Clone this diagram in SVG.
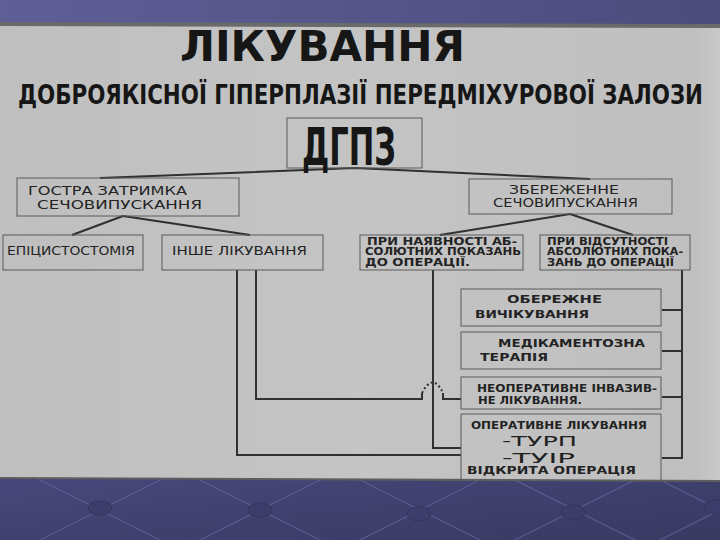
<svg xmlns="http://www.w3.org/2000/svg" width="720" height="540" viewBox="0 0 720 540">
<defs>
<linearGradient id="bgTop" x1="0" y1="0" x2="1" y2="0">
<stop offset="0" stop-color="#5f5f97"/><stop offset="1" stop-color="#4b4b7c"/>
</linearGradient>
<linearGradient id="bgBot" x1="0" y1="0" x2="1" y2="1">
<stop offset="0" stop-color="#48487c"/><stop offset="1" stop-color="#393962"/>
</linearGradient>
<linearGradient id="paper" x1="0" y1="0" x2="1" y2="0">
<stop offset="0" stop-color="#bfbfbf"/><stop offset="0.5" stop-color="#c4c4c4"/><stop offset="0.96" stop-color="#bfbfbf"/><stop offset="1" stop-color="#c8c8c8"/>
</linearGradient>
<style>
.box{fill:none;stroke:#5a5a5a;stroke-width:1}
.t{font-family:"DejaVu Sans","Liberation Sans",sans-serif;fill:#232323;font-size:12px}
.tb{font-family:"DejaVu Sans","Liberation Sans",sans-serif;fill:#232323;font-size:10px;font-weight:bold}
.thin{font-family:"DejaVu Sans","Liberation Sans",sans-serif;fill:#202020;font-size:14.5px;font-weight:normal}
.head{font-family:"DejaVu Sans Condensed","DejaVu Sans",sans-serif;fill:#161616;font-weight:bold}
.ln{fill:none;stroke:#303030;stroke-width:2}
.seam{stroke:#5a5a92;stroke-width:1.2;fill:none}
.btn{fill:#3d3d6b;stroke:#34345c;stroke-width:1}
</style>
</defs>
<!-- background -->
<rect x="0" y="0" width="720" height="30" fill="url(#bgTop)"/>
<rect x="0" y="470" width="720" height="70" fill="url(#bgBot)"/>
<g id="upholstery">
<path class="seam" d="M20,470 L180,550 M180,470 L20,550 M180,470 L340,550 M340,470 L180,550 M340,470 L500,550 M500,470 L340,550 M495,470 L655,550 M655,470 L495,550 M640,470 L800,550 M800,470 L640,550"/>
<ellipse class="btn" cx="100" cy="508" rx="12" ry="7"/>
<ellipse class="btn" cx="260" cy="510" rx="12" ry="7"/>
<ellipse class="btn" cx="419" cy="514" rx="12" ry="7"/>
<ellipse class="btn" cx="573" cy="512" rx="12" ry="7"/>
<ellipse class="btn" cx="716" cy="507" rx="12" ry="7"/>
</g>
<!-- poster -->
<polygon points="0,23 720,25 720,481 0,478" fill="url(#paper)"/>
<path d="M0,24 L720,26" stroke="#6a6a6a" stroke-width="4"/>
<path d="M0,478 L720,481" stroke="#5e5e5e" stroke-width="2"/>

<text class="head" x="180" y="61" font-size="42" textLength="285" lengthAdjust="spacingAndGlyphs">ЛІКУВАННЯ</text>
<text class="head" x="18" y="104" font-size="27" textLength="685" lengthAdjust="spacingAndGlyphs">ДОБРОЯКІСНОЇ ГІПЕРПЛАЗІЇ ПЕРЕДМІХУРОВОЇ ЗАЛОЗИ</text>

<g id="connectors">
<path class="ln" d="M355,168 L100,178 M355,168 L590,179"/>
<path class="ln" d="M123,216 L72,235 M123,216 L250,235"/>
<path class="ln" d="M570,214 L440,235 M570,214 L633,235"/>
<path class="ln" d="M256,270 V399 H422 V393"/>
<path class="ln" d="M422,393 Q433,372 443,393" stroke-dasharray="2,2.5"/>
<path class="ln" d="M443,393 V399 H461"/>
<path class="ln" d="M237,270 V455 H461"/>
<path class="ln" d="M433,270 V448 H461"/>
<path class="ln" d="M682,270 V458 H662 M662,310 H682 M662,351 H682 M662,397 H682"/>
</g>

<g id="dgpz">
<rect class="box" x="287" y="118" width="135" height="50"/>
<text class="head" x="302" y="165" font-size="52" textLength="94" lengthAdjust="spacingAndGlyphs" style="font-weight:600">ДГПЗ</text>
</g>
<g id="acute">
<rect class="box" x="17" y="178" width="222" height="38"/>
<text class="t" x="28" y="195" font-size="13" textLength="159" lengthAdjust="spacingAndGlyphs">ГОСТРА ЗАТРИМКА</text>
<text class="t" x="37" y="209" font-size="15" textLength="165" lengthAdjust="spacingAndGlyphs">СЕЧОВИПУСКАННЯ</text>
</g>
<g id="epicystostomy">
<rect class="box" x="3" y="235" width="140" height="35"/>
<text class="t" x="7" y="255" font-size="13" textLength="128" lengthAdjust="spacingAndGlyphs">ЕПІЦИСТОСТОМІЯ</text>
</g>
<g id="other">
<rect class="box" x="162" y="235" width="161" height="35"/>
<text class="t" x="172" y="255" font-size="13" textLength="135" lengthAdjust="spacingAndGlyphs">ІНШЕ ЛІКУВАННЯ</text>
</g>
<g id="preserved">
<rect class="box" x="469" y="179" width="203" height="35"/>
<text class="t" x="509" y="194" font-size="13" textLength="110" lengthAdjust="spacingAndGlyphs">ЗБЕРЕЖЕННЕ</text>
<text class="t" x="493" y="207" font-size="13" textLength="145" lengthAdjust="spacingAndGlyphs">СЕЧОВИПУСКАННЯ</text>
</g>
<g id="present">
<rect class="box" x="360" y="235" width="163" height="35"/>
<text class="tb" x="367" y="245" font-size="9.5" textLength="150" lengthAdjust="spacingAndGlyphs">ПРИ НАЯВНОСТІ АБ-</text>
<text class="tb" x="365" y="255" font-size="9.5" textLength="156" lengthAdjust="spacingAndGlyphs">СОЛЮТНИХ ПОКАЗАНЬ</text>
<text class="tb" x="365" y="266" font-size="9.5" textLength="105" lengthAdjust="spacingAndGlyphs">ДО ОПЕРАЦІЇ.</text>
</g>
<g id="absent">
<rect class="box" x="540" y="235" width="150" height="35"/>
<text class="tb" x="547" y="245" font-size="9.5" textLength="121" lengthAdjust="spacingAndGlyphs">ПРИ ВІДСУТНОСТІ</text>
<text class="tb" x="547" y="255" font-size="9.5" textLength="136" lengthAdjust="spacingAndGlyphs">АБСОЛЮТНИХ ПОКА-</text>
<text class="tb" x="547" y="266" font-size="9.5" textLength="127" lengthAdjust="spacingAndGlyphs">ЗАНЬ ДО ОПЕРАЦІЇ</text>
</g>
<g id="watchful">
<rect class="box" x="461" y="289" width="200" height="37"/>
<text class="tb" x="507" y="303" font-size="11" textLength="95" lengthAdjust="spacingAndGlyphs">ОБЕРЕЖНЕ</text>
<text class="tb" x="475" y="318" font-size="11" textLength="114" lengthAdjust="spacingAndGlyphs">ВИЧІКУВАННЯ</text>
</g>
<g id="medication">
<rect class="box" x="461" y="332" width="200" height="37"/>
<text class="tb" x="498" y="347" font-size="11" textLength="147" lengthAdjust="spacingAndGlyphs">МЕДІКАМЕНТОЗНА</text>
<text class="tb" x="480" y="361" font-size="11" textLength="68" lengthAdjust="spacingAndGlyphs">ТЕРАПІЯ</text>
</g>
<g id="noninvasive">
<rect class="box" x="461" y="377" width="200" height="32"/>
<text class="tb" x="477" y="392" textLength="180" lengthAdjust="spacingAndGlyphs">НЕОПЕРАТИВНЕ ІНВАЗИВ-</text>
<text class="tb" x="478" y="404" textLength="104" lengthAdjust="spacingAndGlyphs">НЕ ЛІКУВАННЯ.</text>
</g>
<g id="surgery">
<path class="box" d="M461,480 V414 H661 V480"/>
<text class="tb" x="471" y="429" textLength="176" lengthAdjust="spacingAndGlyphs">ОПЕРАТИВНЕ ЛІКУВАННЯ</text>
<text class="thin" x="502" y="446" textLength="75" lengthAdjust="spacingAndGlyphs">-ТУРП</text>
<text class="thin" x="502" y="463" textLength="73" lengthAdjust="spacingAndGlyphs">-ТУІР</text>
<text class="tb" x="467" y="474" font-size="9" textLength="169" lengthAdjust="spacingAndGlyphs">ВІДКРИТА  ОПЕРАЦІЯ</text>
</g>
</svg>
